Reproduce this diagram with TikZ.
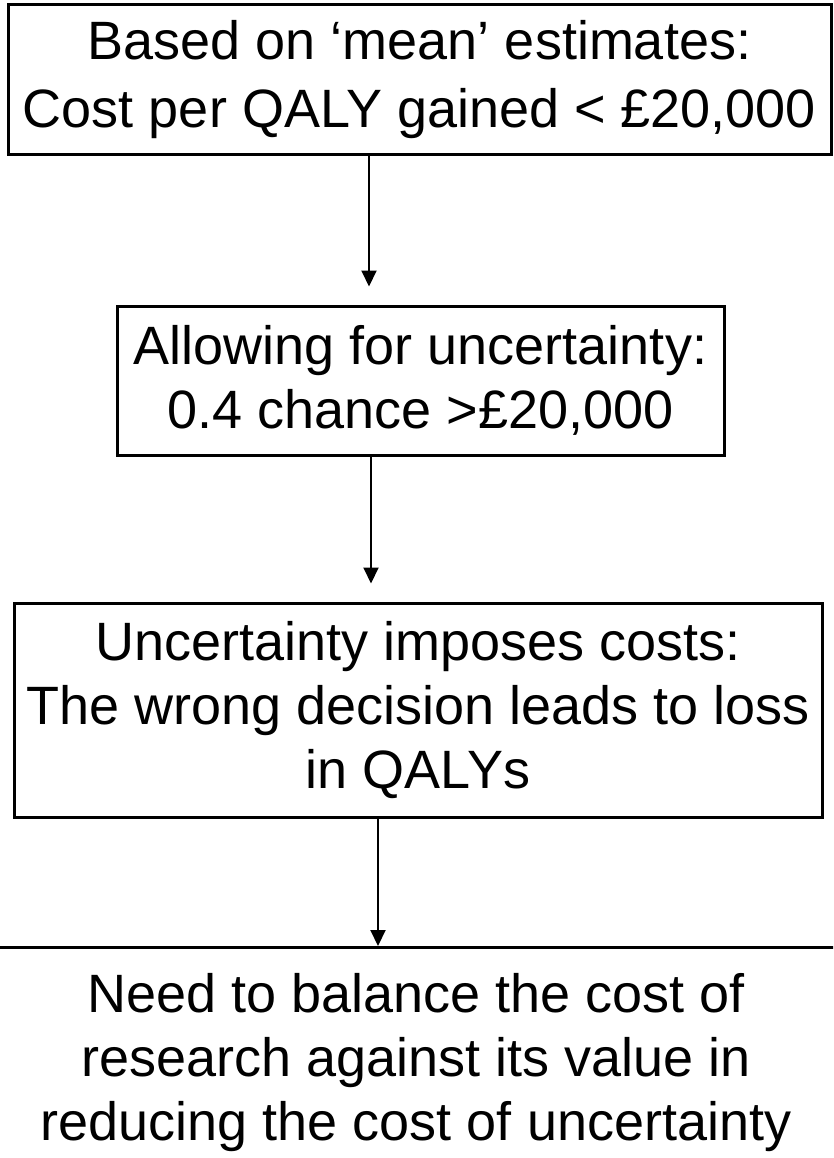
\documentclass[tikz,border=0pt]{standalone}
\usepackage{fontspec}
\setmainfont{Liberation Sans}
\usetikzlibrary{arrows.meta, positioning, calc}

\begin{document}
\begin{tikzpicture}[x=1pt, y=-1pt,
  stepbox/.style={draw, line width=3pt, align=center, inner sep=0pt,
    font=\fontsize{54}{64}\selectfont},
  flow/.style={line width=2pt, -{Triangle[length=16pt, width=15pt]}}]
  \useasboundingbox (0,0) rectangle (833,1158);
  \clip (0,0) rectangle (833,1158);

  \node [stepbox, minimum width=823pt, minimum height=150pt,
    font=\fontsize{54}{68}\selectfont] (mean) at (419.5, 80)
    {Based on ‘mean’ estimates:\\Cost per QALY gained < £20,000};
  \node [stepbox, minimum width=607pt, minimum height=149pt] (uncert) at (420.5, 380.5)
    {Allowing for uncertainty:\\0.4 chance >£20,000};
  \node [stepbox, minimum width=808pt, minimum height=214pt] (cost) at (418, 710)
    {Uncertainty imposes costs:\\The wrong decision leads to loss\\in QALYs};
  \node [stepbox, minimum width=900pt, minimum height=230pt, anchor=north] (balance) at (416, 946)
    {Need to balance the cost of\\research against its value in\\reducing the cost of uncertainty};

  \coordinate (a1) at (369, 0);
  \coordinate (a2) at (371, 0);
  \coordinate (a3) at (378, 0);
  \draw [flow, shorten >=18pt] (mean.south -| a1) -- (uncert.north -| a1);
  \draw [flow, shorten >=18pt] (uncert.south -| a2) -- (cost.north -| a2);
  \draw [flow] (cost.south -| a3) -- (balance.north -| a3);
\end{tikzpicture}
\end{document}
